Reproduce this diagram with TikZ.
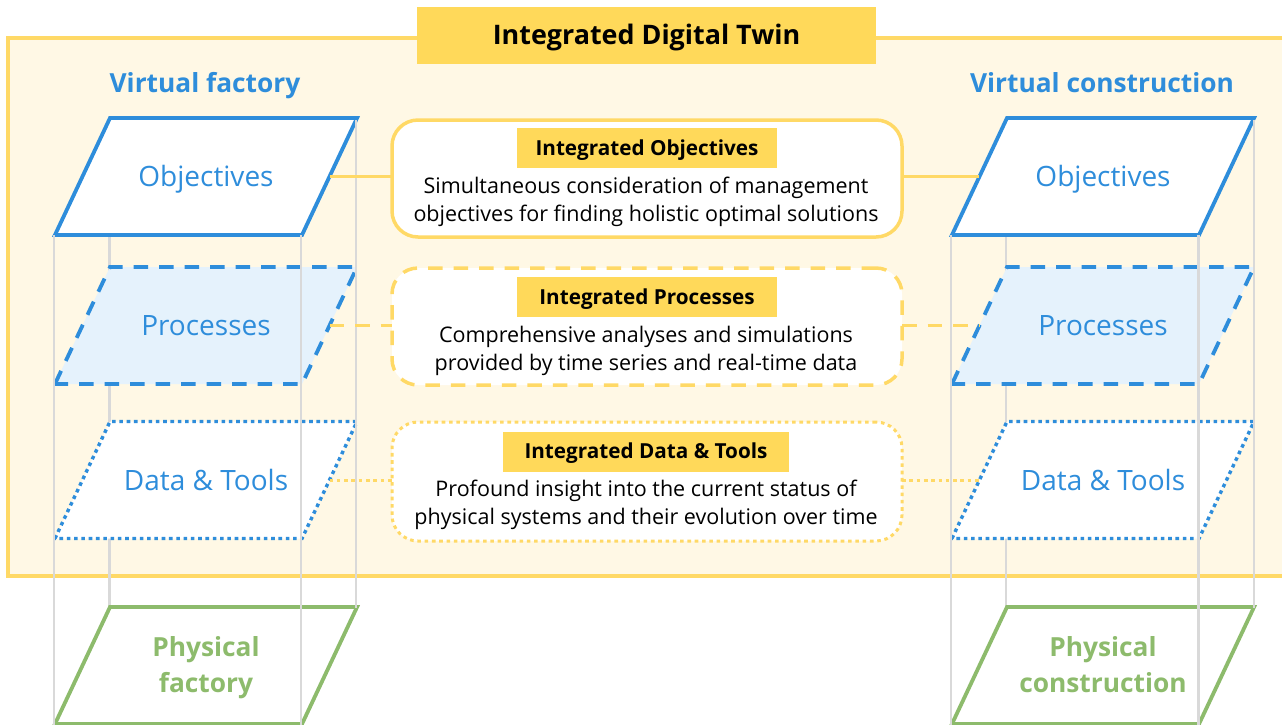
\documentclass[tikz,border=0pt]{standalone}
\usepackage{fontspec}
\setmainfont{Open Sans}
\usetikzlibrary{shapes.geometric}
\definecolor{gold}{HTML}{FFD966}
\definecolor{goldbar}{HTML}{FFD95A}
\definecolor{cream}{HTML}{FFF8E5}
\definecolor{skyline}{HTML}{2E8DDB}
\definecolor{skyfill}{HTML}{E5F2FC}
\definecolor{leaf}{HTML}{8DBB6C}
\definecolor{pillar}{HTML}{D9D9D9}
\newcommand{\fs}[2]{\fontsize{#1}{#2}\selectfont}
\newcommand{\planetext}[1]{\parbox[c][117pt][c]{192pt}{\centering\fs{28}{34}\raisebox{0pt}[20pt][0pt]{#1}}}
\newcommand{\planetwo}[2]{\parbox[c][117pt][c]{192pt}{\centering\fs{26.3}{35.5}\bfseries\vspace*{4pt}\strut #1\\\strut #2\par}}
\tikzset{
  plane/.style={trapezium,trapezium left angle=64.8,trapezium right angle=115.2,
    inner sep=0pt,outer sep=0pt,text=skyline},
  solidline/.style={line width=3.8pt},
  dashline/.style={line width=3.8pt,dash pattern=on 14.5pt off 11pt},
  dotline/.style={line width=3.4pt,dash pattern=on 3.6pt off 3.7pt},
  pil/.style={draw=pillar,line width=2.4pt},
  card/.style={rectangle,rounded corners=26pt,draw=gold,fill=white,minimum width=510pt,inner sep=0pt,outer sep=0pt},
  tag/.style={rectangle,fill=goldbar,inner sep=0pt,outer sep=0pt,minimum height=40pt,text height=14pt,text depth=0pt,font=\fs{20.7}{25}\bfseries,text=black},
  body/.style={align=center,font=\fs{21.5}{28},text=black,inner sep=0pt,outer sep=0pt},
  head/.style={font=\fs{26.3}{30}\bfseries,text=skyline,inner sep=0pt,outer sep=0pt,anchor=base},
}
\begin{document}
\begin{tikzpicture}[x=1pt,y=-1pt]
\useasboundingbox (0,0) rectangle (1282,724);
% frame
\node[rectangle,draw=gold,fill=cream,line width=3.5pt,minimum width=1300pt,minimum height=538pt,inner sep=0pt,outer sep=0pt,anchor=north west] (frame) at (8,38) {};
\node[rectangle,fill=goldbar,minimum width=459pt,minimum height=57pt,inner sep=0pt,outer sep=0pt,text height=17pt,text depth=0pt,font=\fs{26.9}{30}\bfseries,text=black] (title) at (646.5,35.5) {Integrated Digital Twin};
\node[head] (vf) at (205,92) {Virtual factory};
\node[head] (vc) at (1102,92) {Virtual construction};
% rear pillars
\coordinate (lb1) at (109.5,235); \coordinate (lb2) at (109.5,608);
\coordinate (rb1) at (1006,235); \coordinate (rb2) at (1006,608);
\draw[pil] (lb1) -- (lb2);
\draw[pil] (rb1) -- (rb2);
% planes
\node[plane,draw=skyline,fill=white,solidline] (lo) at (206,176.5) {\planetext{Objectives}};
\node[plane,draw=skyline,fill=skyfill,dashline] (lp) at (206,325.5) {\planetext{Processes}};
\node[plane,draw=skyline,fill=white,dotline] (ld) at (206,480) {\planetext{Data \& Tools}};
\node[plane,draw=leaf,fill=white,solidline,text=leaf] (lf) at (206,665.5) {\planetwo{Physical}{factory}};
\node[plane,draw=skyline,fill=white,solidline] (ro) at (1103,176.5) {\planetext{Objectives}};
\node[plane,draw=skyline,fill=skyfill,dashline] (rp) at (1103,325.5) {\planetext{Processes}};
\node[plane,draw=skyline,fill=white,dotline] (rd) at (1103,480) {\planetext{Data \& Tools}};
\node[plane,draw=leaf,fill=white,solidline,text=leaf] (rf) at (1103,665.5) {\planetwo{Physical}{construction}};
% front pillars
\coordinate (a1) at (54,235); \coordinate (a2) at (54,726);
\coordinate (b1) at (301,235); \coordinate (b2) at (301,726);
\coordinate (c1) at (356,120); \coordinate (c2) at (356,608);
\coordinate (d1) at (951,235); \coordinate (d2) at (951,726);
\coordinate (e1) at (1198.5,235); \coordinate (e2) at (1198.5,726);
\coordinate (f1) at (1254,120); \coordinate (f2) at (1254,608);
\foreach \p in {a,b,c,d,e,f} {\draw[pil] (\p1) -- (\p2);}
% cards
\node[card,solidline,line width=3.5pt,minimum height=117pt] (c-o) at (647,178.5) {};
\node[card,dashline,line width=3.5pt,minimum height=117pt] (c-p) at (647,326.5) {};
\node[card,dotline,line width=3pt,minimum height=119pt] (c-d) at (647,481.5) {};
% connectors
\draw[gold,solidline,line width=3.2pt] (lo.east) -- (lo.east -| c-o.west);
\draw[gold,solidline,line width=3.2pt] (c-o.east |- ro.west) -- (ro.west);
\draw[gold,dashline,line width=3.2pt] (lp.east) -- (lp.east -| c-p.west);
\draw[gold,dashline,line width=3.2pt] (c-p.east |- rp.west) -- (rp.west);
\draw[gold,dotline,line width=3pt] (ld.east) -- (ld.east -| c-d.west);
\draw[gold,dotline,line width=3pt] (c-d.east |- rd.west) -- (rd.west);
% card contents
\node[tag,minimum width=260pt] (t-o) at (647,148) {Integrated Objectives};
\node[tag,minimum width=260pt] (t-p) at (647,297) {Integrated Processes};
\node[tag,minimum width=286pt] (t-d) at (646,451.5) {Integrated Data \& Tools};
\node[body] (b-o) at (646,201.4) {\strut Simultaneous consideration of management\\\strut objectives for finding holistic optimal solutions};
\node[body] (b-p) at (646,350.4) {\strut Comprehensive analyses and simulations\\\strut provided by time series and real-time data};
\node[body] (b-d) at (646,504.4) {\strut Profound insight into the current status of\\\strut physical systems and their evolution over time};
\end{tikzpicture}
\end{document}
